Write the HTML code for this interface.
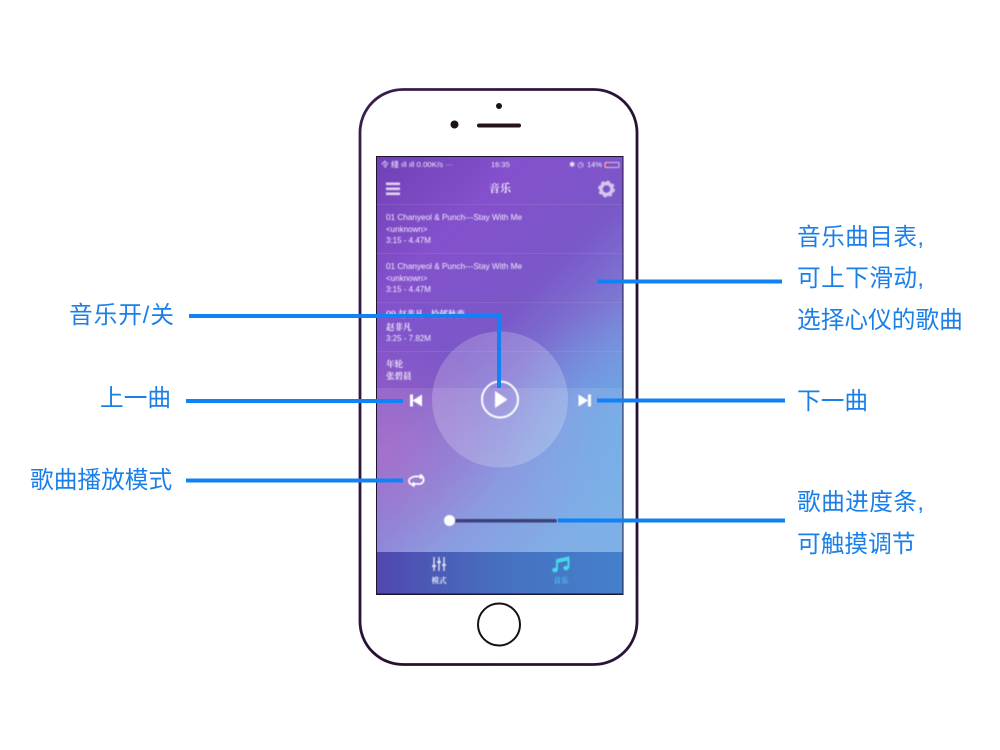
<!DOCTYPE html>
<html><head><meta charset="utf-8"><style>
html,body{margin:0;padding:0;background:#fff}
svg{display:block}
.l{font-family:"Liberation Sans","Noto Sans CJK SC",sans-serif;font-size:23.7px;fill:#1a7fe8}
.s{font-family:"Liberation Sans","Noto Sans CJK SC",sans-serif;fill:#f3ecfc}
.z{font-family:"Noto Serif CJK SC",serif;fill:#fff;font-weight:600}
</style></head><body>
<svg width="1000" height="750" viewBox="0 0 1000 750" xmlns="http://www.w3.org/2000/svg">
<defs>
<linearGradient id="b" x1="0" y1="0" x2="0.55" y2="1">
<stop offset="0" stop-color="#7040b6"/><stop offset=".25" stop-color="#8450cc"/><stop offset=".5" stop-color="#7a58c8"/><stop offset=".78" stop-color="#7e8fdc"/><stop offset="1" stop-color="#72a6e4"/>
</linearGradient>
<radialGradient id="p" cx="380" cy="450" r="120" gradientUnits="userSpaceOnUse"><stop offset="0" stop-color="#b565c4" stop-opacity=".55"/><stop offset="1" stop-color="#b565c4" stop-opacity="0"/></radialGradient>
<radialGradient id="q" cx="635" cy="430" r="130" gradientUnits="userSpaceOnUse"><stop offset="0" stop-color="#66a8e6" stop-opacity=".9"/><stop offset="1" stop-color="#66a8e6" stop-opacity="0"/></radialGradient>
<linearGradient id="t" x1="0" y1="0" x2="1" y2="0"><stop offset="0" stop-color="#5048ae"/><stop offset=".5" stop-color="#4670bf"/><stop offset="1" stop-color="#4480cc"/></linearGradient>
<linearGradient id="f" x1="0" y1="0" x2="1" y2="1"><stop offset="0" stop-color="#3a1f50"/><stop offset=".6" stop-color="#24102f"/><stop offset="1" stop-color="#2a1438"/></linearGradient>
<filter id="bl"><feGaussianBlur stdDeviation=".4"/></filter>
</defs>

<rect x="360" y="89.500" width="277" height="575" rx="43" fill="#fff" stroke="url(#f)" stroke-width="2.800"/>
<circle cx="499" cy="106" r="3" fill="#1b1216"/>
<circle cx="454.500" cy="124.500" r="4" fill="#1b1216"/>
<rect x="477" y="123.500" width="44" height="4" rx="2" fill="#24121c"/>
<circle cx="499" cy="624.500" r="21" fill="#fff" stroke="#17101a" stroke-width="2"/>

<rect x="376" y="156" width="247.500" height="439" fill="#1d1430"/>
<rect x="377" y="157" width="245.500" height="436.500" fill="url(#b)"/>
<rect x="377" y="300" width="245.500" height="252" fill="url(#p)"/>
<rect x="377" y="290" width="245.500" height="262" fill="url(#q)"/>
<rect x="377" y="388" width="245.500" height="164" fill="#fff" opacity=".1"/>
<g stroke="#fff" stroke-opacity=".08"><path d="M377 204.500H622M377 253.500H622M377 302.500H622M377 351.500H622"/></g>
<circle cx="500" cy="399.500" r="68" fill="#fff" opacity=".2"/>
<rect x="377" y="552" width="245.500" height="41.500" fill="url(#t)"/>

<g filter="url(#bl)">
<text class="s" x="381" y="167" font-size="7.500" textLength="72" lengthAdjust="spacingAndGlyphs">令 綫 ıll ıll 0.00K/s ···</text>
<text class="s" x="491" y="167" font-size="7.500">16:35</text>
<text class="s" x="569" y="167" font-size="7.500">✱ ◷</text>
<text class="s" x="587" y="167" font-size="7.500">14%</text>
<rect x="605" y="162.500" width="14" height="5" rx="1" fill="none" stroke="#f0e0f0" stroke-width=".8"/>
<rect x="606" y="163.500" width="2.500" height="3" fill="#f02040"/>
<g fill="#e0d2f2"><rect x="386" y="182.500" width="14" height="2.600"/><rect x="386" y="187.500" width="14" height="2.600"/><rect x="386" y="192.500" width="14" height="2.600"/></g>
<text class="z" x="500" y="192" font-size="11" text-anchor="middle">音乐</text>
<circle cx="606.500" cy="189" r="5.500" fill="none" stroke="#d6c6ee" stroke-width="3.500"/>
<circle cx="606.500" cy="189" r="7.500" fill="none" stroke="#d6c6ee" stroke-width="2" stroke-dasharray="3 2.900"/>

<text class="s" x="386" y="220" font-size="8.500" textLength="136" lengthAdjust="spacingAndGlyphs">01 Chanyeol &amp; Punch---Stay With Me</text>
<text class="s" x="386" y="232" font-size="8">&lt;unknown&gt;</text>
<text class="s" x="386" y="243" font-size="8">3:15 - 4.47M</text>
<text class="s" x="386" y="269" font-size="8.500" textLength="136" lengthAdjust="spacingAndGlyphs">01 Chanyeol &amp; Punch---Stay With Me</text>
<text class="s" x="386" y="281" font-size="8">&lt;unknown&gt;</text>
<text class="s" x="386" y="292" font-size="8">3:15 - 4.47M</text>
<text class="z" x="386" y="317" font-size="8.500">09 赵非凡 - 拾郁秋变</text>
<text class="z" x="386" y="330" font-size="8.500">赵非凡</text>
<text class="s" x="386" y="341" font-size="8">3:25 - 7.82M</text>
<text class="z" x="386" y="367" font-size="8.500">年轮</text>
<text class="z" x="386" y="379" font-size="8.500">张碧晨</text>

<circle cx="500" cy="399.500" r="18" fill="none" stroke="#fff" stroke-width="2"/>
<path d="M495 391V408L507.500 399.500Z" fill="#fff"/>
<path d="M410 394.500h3v12h-3zM422 394.500v12l-9.500-6z" fill="#fff"/>
<path d="M591 394.500h-3v12h3zM578.500 394.500v12l9.500-6z" fill="#fff"/>
<path d="M414 484.500h-1a3.500 3.500 0 0 1-1-7q1-1 3-1h6M420 474.500l2.500 2-2.500 2M421 476.500a3.500 3.500 0 0 1 1.500 6q-1 1.500-3 1.500h-6M414.500 486.500l-2.500-2 2.500-2" fill="none" stroke="#fff" stroke-width="1.800"/>
<rect x="450" y="519" width="107" height="3.500" rx="1.500" fill="#3b4379"/>
<circle cx="449.500" cy="520.500" r="5.500" fill="#fff"/>

<g stroke="#e8e6f8" stroke-width="1.300"><path d="M434 557V571M439 557V571M444 557V571"/></g>
<g fill="#e8e6f8"><rect x="432.200" y="565" width="3.600" height="2"/><rect x="437.200" y="561" width="3.600" height="2"/><rect x="442.200" y="564" width="3.600" height="2"/></g>
<text class="z" x="439" y="583" font-size="7.500" text-anchor="middle">模式</text>
<path d="M557 569.500V560L568.500 557.500V567.500" fill="none" stroke="#47d9ea" stroke-width="2"/>
<path d="M557 559.500L568.500 557V560.500L557 563Z" fill="#47d9ea"/>
<ellipse cx="555" cy="570" rx="2.800" ry="2.300" fill="#47d9ea"/><ellipse cx="566" cy="568" rx="2.800" ry="2.300" fill="#47d9ea"/>
<text class="z" x="561" y="583" font-size="7.500" text-anchor="middle" style="fill:#47d0ea">音乐</text>
</g>

<g fill="none" stroke="#0f83f5" stroke-width="4">
<path d="M189 316H499V388"/>
<path d="M186 401H403"/>
<path d="M186 480.500H403"/>
<path d="M597 281.500H782"/>
<path d="M597 400.500H785"/>
<path d="M558 520.500H785"/>
</g>

<text class="l" x="69" y="323" textLength="105">音乐开/关</text>
<text class="l" x="100" y="406">上一曲</text>
<text class="l" x="30" y="488">歌曲播放模式</text>
<text class="l" x="797" y="245" textLength="127">音乐曲目表,</text>
<text class="l" x="797" y="286" textLength="127">可上下滑动,</text>
<text class="l" x="797" y="328">选择心仪的歌曲</text>
<text class="l" x="797" y="409">下一曲</text>
<text class="l" x="797" y="510" textLength="127">歌曲进度条,</text>
<text class="l" x="797" y="552">可触摸调节</text>
</svg>
</body></html>
